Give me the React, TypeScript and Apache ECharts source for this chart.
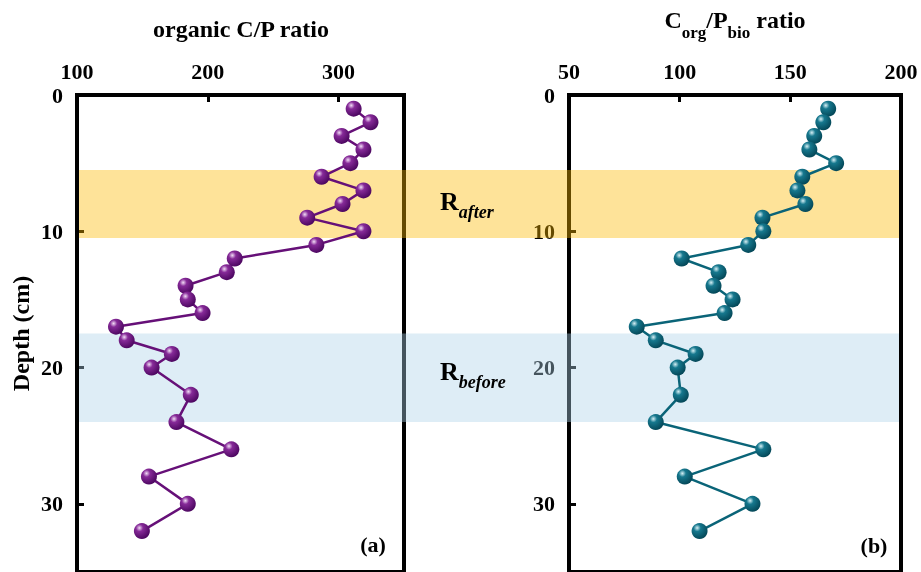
import React, { useEffect, useRef } from "react";
import * as echarts from "echarts";

const depths = [1, 2, 3, 4, 5, 6, 7, 8, 9, 10, 11, 12, 13, 14, 15, 16, 17, 18, 19, 20, 22, 24, 26, 28, 30, 32];
const organicCP = [311.5, 324.4, 302.3, 319, 309, 287, 319, 303, 276, 319, 283, 220.6, 214.5, 183, 184.7, 196, 129.8, 138, 172.5, 157, 187, 176, 218, 155, 184.7, 149.6];
const corgPbio = [167.1, 164.9, 160.8, 158.6, 170.7, 155.4, 153.2, 156.8, 137.4, 137.8, 131, 100.9, 117.6, 115.3, 123.9, 120.3, 80.6, 89.2, 107.2, 99.1, 100.5, 89.2, 137.8, 102.3, 132.9, 109];
const afterBand = [5.5, 10.5];
const beforeBand = [17.5, 24];
const leftRange = [100, 350, 100];
const rightRange = [50, 200, 50];
const depthRange = [0, 35, 10];

const FONT = "'Liberation Serif', 'Times New Roman', serif";

function sphere(light: string, mid: string, dark: string) {
  return {
    type: "radial",
    x: 0.35,
    y: 0.3,
    r: 0.75,
    colorStops: [
      { offset: 0, color: light },
      { offset: 0.3, color: mid },
      { offset: 1, color: dark },
    ],
  };
}

export default function App() {
  const ref = useRef<HTMLDivElement>(null);
  useEffect(() => {
    if (!ref.current) return;
    const chart = echarts.init(ref.current, undefined, { renderer: "svg" });
    const labelStyle = { color: "#000", fontFamily: FONT, fontWeight: "bold", fontSize: 22 };
    const xAxisBase = (range: number[], gridIndex: number) => ({
      type: "value",
      gridIndex,
      position: "top",
      min: range[0],
      max: range[1],
      interval: range[2],
      splitLine: { show: false },
      axisLine: { show: false },
      axisTick: { show: true, inside: true, length: 7, lineStyle: { color: "#000", width: 3 } },
      axisLabel: {
        ...labelStyle,
        margin: 13,
        showMaxLabel: true,
        formatter: (v: number) => ((v - range[0]) % range[2] === 0 ? String(v) : ""),
      },
    });
    const yAxisBase = (gridIndex: number, extra: any = {}) => ({
      type: "value",
      gridIndex,
      inverse: true,
      min: depthRange[0],
      max: depthRange[1],
      interval: depthRange[2],
      splitLine: { show: false },
      axisLine: { show: false },
      axisTick: { show: true, inside: true, length: 7, lineStyle: { color: "#000", width: 3 } },
      axisLabel: {
        ...labelStyle,
        margin: 14,
        formatter: (v: number) => (v % depthRange[2] === 0 ? String(v) : ""),
      },
      ...extra,
    });
    const gridBorder = { show: true, borderColor: "#000", borderWidth: 4, backgroundColor: "transparent" };
    const subRich = (main: number, sub: number, lh: number, italic: boolean) => ({
      m: { fontFamily: FONT, fontWeight: "bold", fontSize: main, lineHeight: main, verticalAlign: "top", fill: "#000", color: "#000" },
      s: {
        fontFamily: FONT,
        fontWeight: "bold",
        fontStyle: italic ? "italic" : "normal",
        fontSize: sub,
        lineHeight: lh,
        verticalAlign: "bottom",
        fill: "#000",
        color: "#000",
      },
    });
    const option: any = {
      animation: false,
      grid: [
        { left: 77, top: 95, width: 327, height: 478, ...gridBorder },
        { left: 569, top: 95, width: 332, height: 478, ...gridBorder },
        { left: 79, top: 95, width: 820, height: 478, show: false },
      ],
      xAxis: [
        xAxisBase(leftRange, 0),
        xAxisBase(rightRange, 1),
        { type: "value", gridIndex: 2, min: 0, max: 1, show: false },
      ],
      yAxis: [
        yAxisBase(0, {
          name: "Depth (cm)",
          nameLocation: "middle",
          nameGap: 44,
          nameRotate: 90,
          nameTextStyle: { color: "#000", fontFamily: FONT, fontWeight: "bold", fontSize: 24 },
        }),
        yAxisBase(1),
        { type: "value", gridIndex: 2, inverse: true, min: depthRange[0], max: depthRange[1], show: false },
      ],
      series: [
        {
          type: "line",
          xAxisIndex: 0,
          yAxisIndex: 0,
          data: depths.map((d, i) => [organicCP[i], d]),
          symbol: "circle",
          symbolSize: 16,
          lineStyle: { color: "#661078", width: 2.5 },
          itemStyle: { color: sphere("#f2dcf6", "#862a98", "#48045c") },
          z: 3,
        },
        {
          type: "line",
          xAxisIndex: 1,
          yAxisIndex: 1,
          data: depths.map((d, i) => [corgPbio[i], d]),
          symbol: "circle",
          symbolSize: 16,
          lineStyle: { color: "#0a6478", width: 2.5 },
          itemStyle: { color: sphere("#d6f0f5", "#16788e", "#034454") },
          z: 3,
        },
        {
          type: "line",
          xAxisIndex: 2,
          yAxisIndex: 2,
          data: [[0, 0], [1, 0]],
          showSymbol: false,
          symbol: "none",
          lineStyle: { width: 0, opacity: 0 },
          silent: true,
          z: 10,
          markArea: {
            silent: true,
            label: { show: false },
            data: [
              [
                { xAxis: 0, yAxis: afterBand[0], itemStyle: { color: "rgba(252,185,0,0.4)" } },
                { xAxis: 1, yAxis: afterBand[1] },
              ],
              [
                { xAxis: 0, yAxis: beforeBand[0], itemStyle: { color: "rgba(172,210,232,0.4)" } },
                { xAxis: 1, yAxis: beforeBand[1] },
              ],
            ],
          },
        },
      ],
      graphic: [
        {
          type: "text",
          x: 241,
          y: 29,
          style: {
            text: "organic C/P ratio",
            font: `bold 24px ${FONT}`,
            fill: "#000",
            align: "center",
            textAlign: "center",
            verticalAlign: "middle",
            textVerticalAlign: "middle",
          },
        },
        {
          type: "text",
          x: 735,
          y: 8,
          style: {
            text: "{m|C}{s|org}{m|/P}{s|bio}{m| ratio}",
            fill: "#000",
            align: "center",
            textAlign: "center",
            verticalAlign: "top",
            textVerticalAlign: "top",
            rich: subRich(24, 17, 33, false),
          },
        },
        {
          type: "text",
          x: 440,
          y: 188,
          z: 100,
          style: {
            text: "{m|R}{s|after}",
            fill: "#000",
            align: "left",
            textAlign: "left",
            verticalAlign: "top",
            textVerticalAlign: "top",
            rich: subRich(26, 18, 33, true),
          },
        },
        {
          type: "text",
          x: 440,
          y: 358,
          z: 100,
          style: {
            text: "{m|R}{s|before}",
            fill: "#000",
            align: "left",
            textAlign: "left",
            verticalAlign: "top",
            textVerticalAlign: "top",
            rich: subRich(26, 18, 33, true),
          },
        },
        {
          type: "text",
          x: 373,
          y: 544,
          style: {
            text: "(a)",
            font: `bold 22px ${FONT}`,
            fill: "#000",
            align: "center",
            textAlign: "center",
            verticalAlign: "middle",
            textVerticalAlign: "middle",
          },
        },
        {
          type: "text",
          x: 874,
          y: 545,
          style: {
            text: "(b)",
            font: `bold 22px ${FONT}`,
            fill: "#000",
            align: "center",
            textAlign: "center",
            verticalAlign: "middle",
            textVerticalAlign: "middle",
          },
        },
      ],
    };
    chart.setOption(option);
    return () => chart.dispose();
  }, []);
  return <div ref={ref} style={{ position: "fixed", left: 0, top: 0, width: 921, height: 572 }} />;
}
